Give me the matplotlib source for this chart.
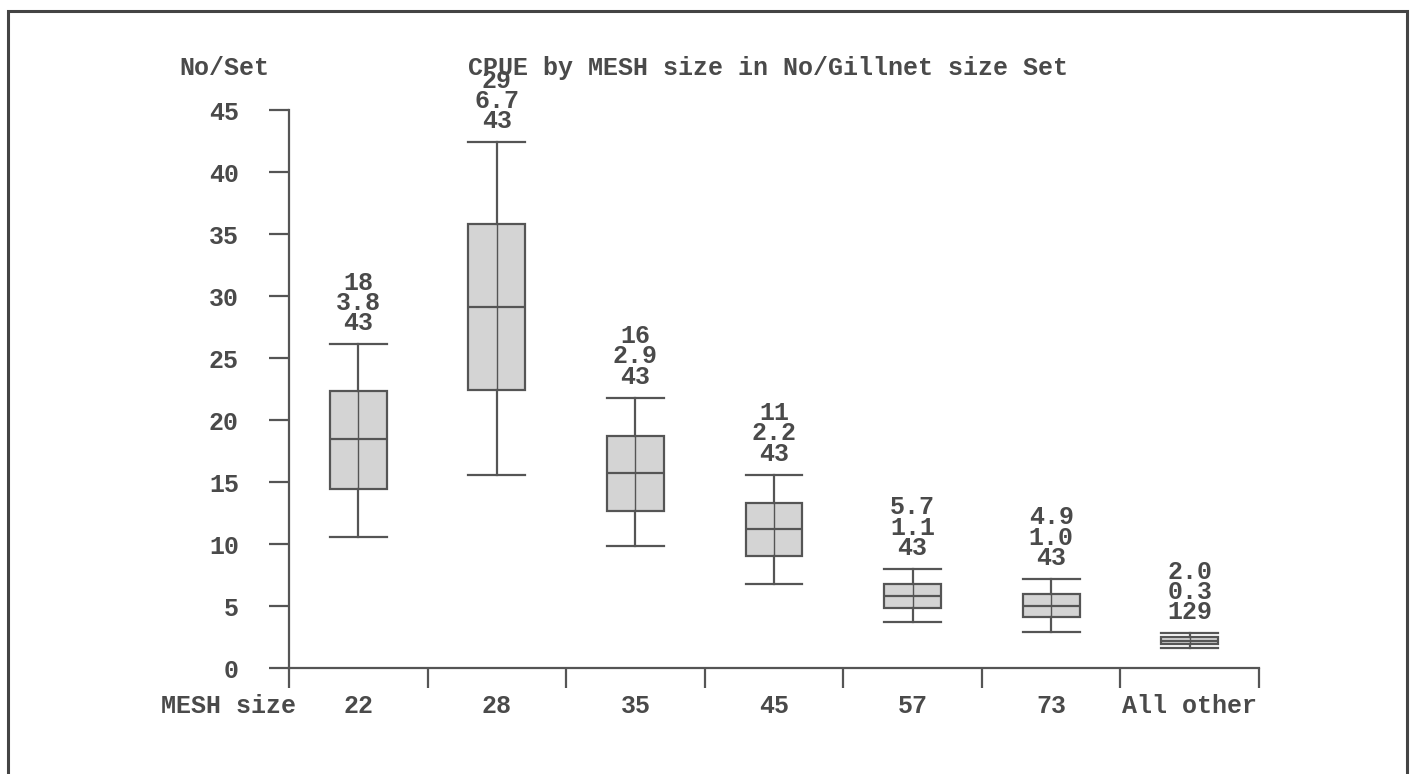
import matplotlib
matplotlib.use("Agg")
import matplotlib.pyplot as plt
from matplotlib.patches import Rectangle

# ---- data ----
categories = ["22", "28", "35", "45", "57", "73", "All other"]
whis_lo = [10.6, 15.6, 9.8, 6.8, 3.7, 2.9, 1.6]
q1 = [14.4, 22.4, 12.7, 9.0, 4.8, 4.1, 1.9]
median = [18.5, 29.1, 15.7, 11.2, 5.8, 5.0, 2.2]
q3 = [22.3, 35.8, 18.7, 13.3, 6.8, 6.0, 2.5]
whis_hi = [26.1, 42.4, 21.8, 15.6, 8.0, 7.2, 2.8]
mean_lbl = ["18", "29", "16", "11", "5.7", "4.9", "2.0"]
se_lbl = ["3.8", "6.7", "2.9", "2.2", "1.1", "1.0", "0.3"]
n_lbl = ["43", "43", "43", "43", "43", "43", "129"]
yticks = [0, 5, 10, 15, 20, 25, 30, 35, 40, 45]

W, H = 1410, 774
FONT = "Liberation Mono"
TC = "#4a4a4a"
LC = "#555555"
FS = 18

fig = plt.figure(figsize=(W / 100, H / 100), dpi=100)
fig.patch.set_facecolor("white")
ax = fig.add_axes([289 / W, 1 - 668 / H, (1259 - 289) / W, (668 - 110) / H])
ax.set_facecolor("white")

pos = [i + 0.5 for i in range(len(categories))]
bw = 0.41
stats = []
for i in range(len(categories)):
    stats.append(dict(whislo=whis_lo[i], q1=q1[i], med=median[i], q3=q3[i],
                      whishi=whis_hi[i], fliers=[]))
lw = 1.6
ax.bxp(stats, positions=pos, widths=bw, capwidths=bw, patch_artist=True,
       showfliers=False,
       boxprops=dict(facecolor="#d4d4d4", edgecolor=LC, linewidth=lw),
       whiskerprops=dict(color=LC, linewidth=lw),
       capprops=dict(color=LC, linewidth=lw),
       medianprops=dict(color=LC, linewidth=lw))
# whisker line runs through the box
ax.vlines(pos, q1, q3, colors=LC, linewidth=1.0, zorder=5)

ax.set_xlim(0, 7)
ax.set_ylim(0, 45)
for s in ["top", "right"]:
    ax.spines[s].set_visible(False)
for s in ["left", "bottom"]:
    ax.spines[s].set_color(LC)
    ax.spines[s].set_linewidth(1.6)

ax.set_xticks(range(8))
ax.set_xticklabels([])
ax.set_yticks(yticks)
ax.set_yticklabels([str(v) for v in yticks], fontfamily=FONT, fontweight="bold",
                   fontsize=FS, color=TC)
ax.tick_params(axis="both", direction="out", length=20 * 0.72, width=1.6, color=LC)
ax.tick_params(axis="y", pad=30 * 0.72)

# category labels
for p, c in zip(pos, categories):
    ax.annotate(c, xy=(p, 0), xycoords=("data", "axes fraction"),
                xytext=(0, -38 * 0.72), textcoords="offset points",
                ha="center", va="center", fontfamily=FONT, fontweight="bold",
                fontsize=FS, color=TC)

# labels above boxes (mean / se / n)
for i, p in enumerate(pos):
    txt = "\n".join([mean_lbl[i], se_lbl[i], n_lbl[i]])
    ax.annotate(txt, xy=(p, whis_hi[i]), xytext=(0, 9 * 0.72),
                textcoords="offset points", ha="center", va="bottom",
                multialignment="center", linespacing=0.80,
                fontfamily=FONT, fontweight="bold", fontsize=FS, color=TC)

fig.text(224 / W, 1 - 68 / H, "No/Set", ha="center", va="center",
         fontfamily=FONT, fontweight="bold", fontsize=FS, color=TC)
fig.text(768 / W, 1 - 68 / H, "CPUE by MESH size in No/Gillnet size Set",
         ha="center", va="center", fontfamily=FONT, fontweight="bold",
         fontsize=FS, color=TC)
fig.text(228 / W, 1 - 706 / H, "MESH size", ha="center", va="center",
         fontfamily=FONT, fontweight="bold", fontsize=FS, color=TC)

# page border
fig.patches.append(Rectangle((8 / W, -0.05), (1407 - 8) / W, 1.05 - 11 / H,
                             transform=fig.transFigure, fill=False,
                             edgecolor="#444444", linewidth=2.2))

fig.savefig("out.png", dpi=100, facecolor="white")
